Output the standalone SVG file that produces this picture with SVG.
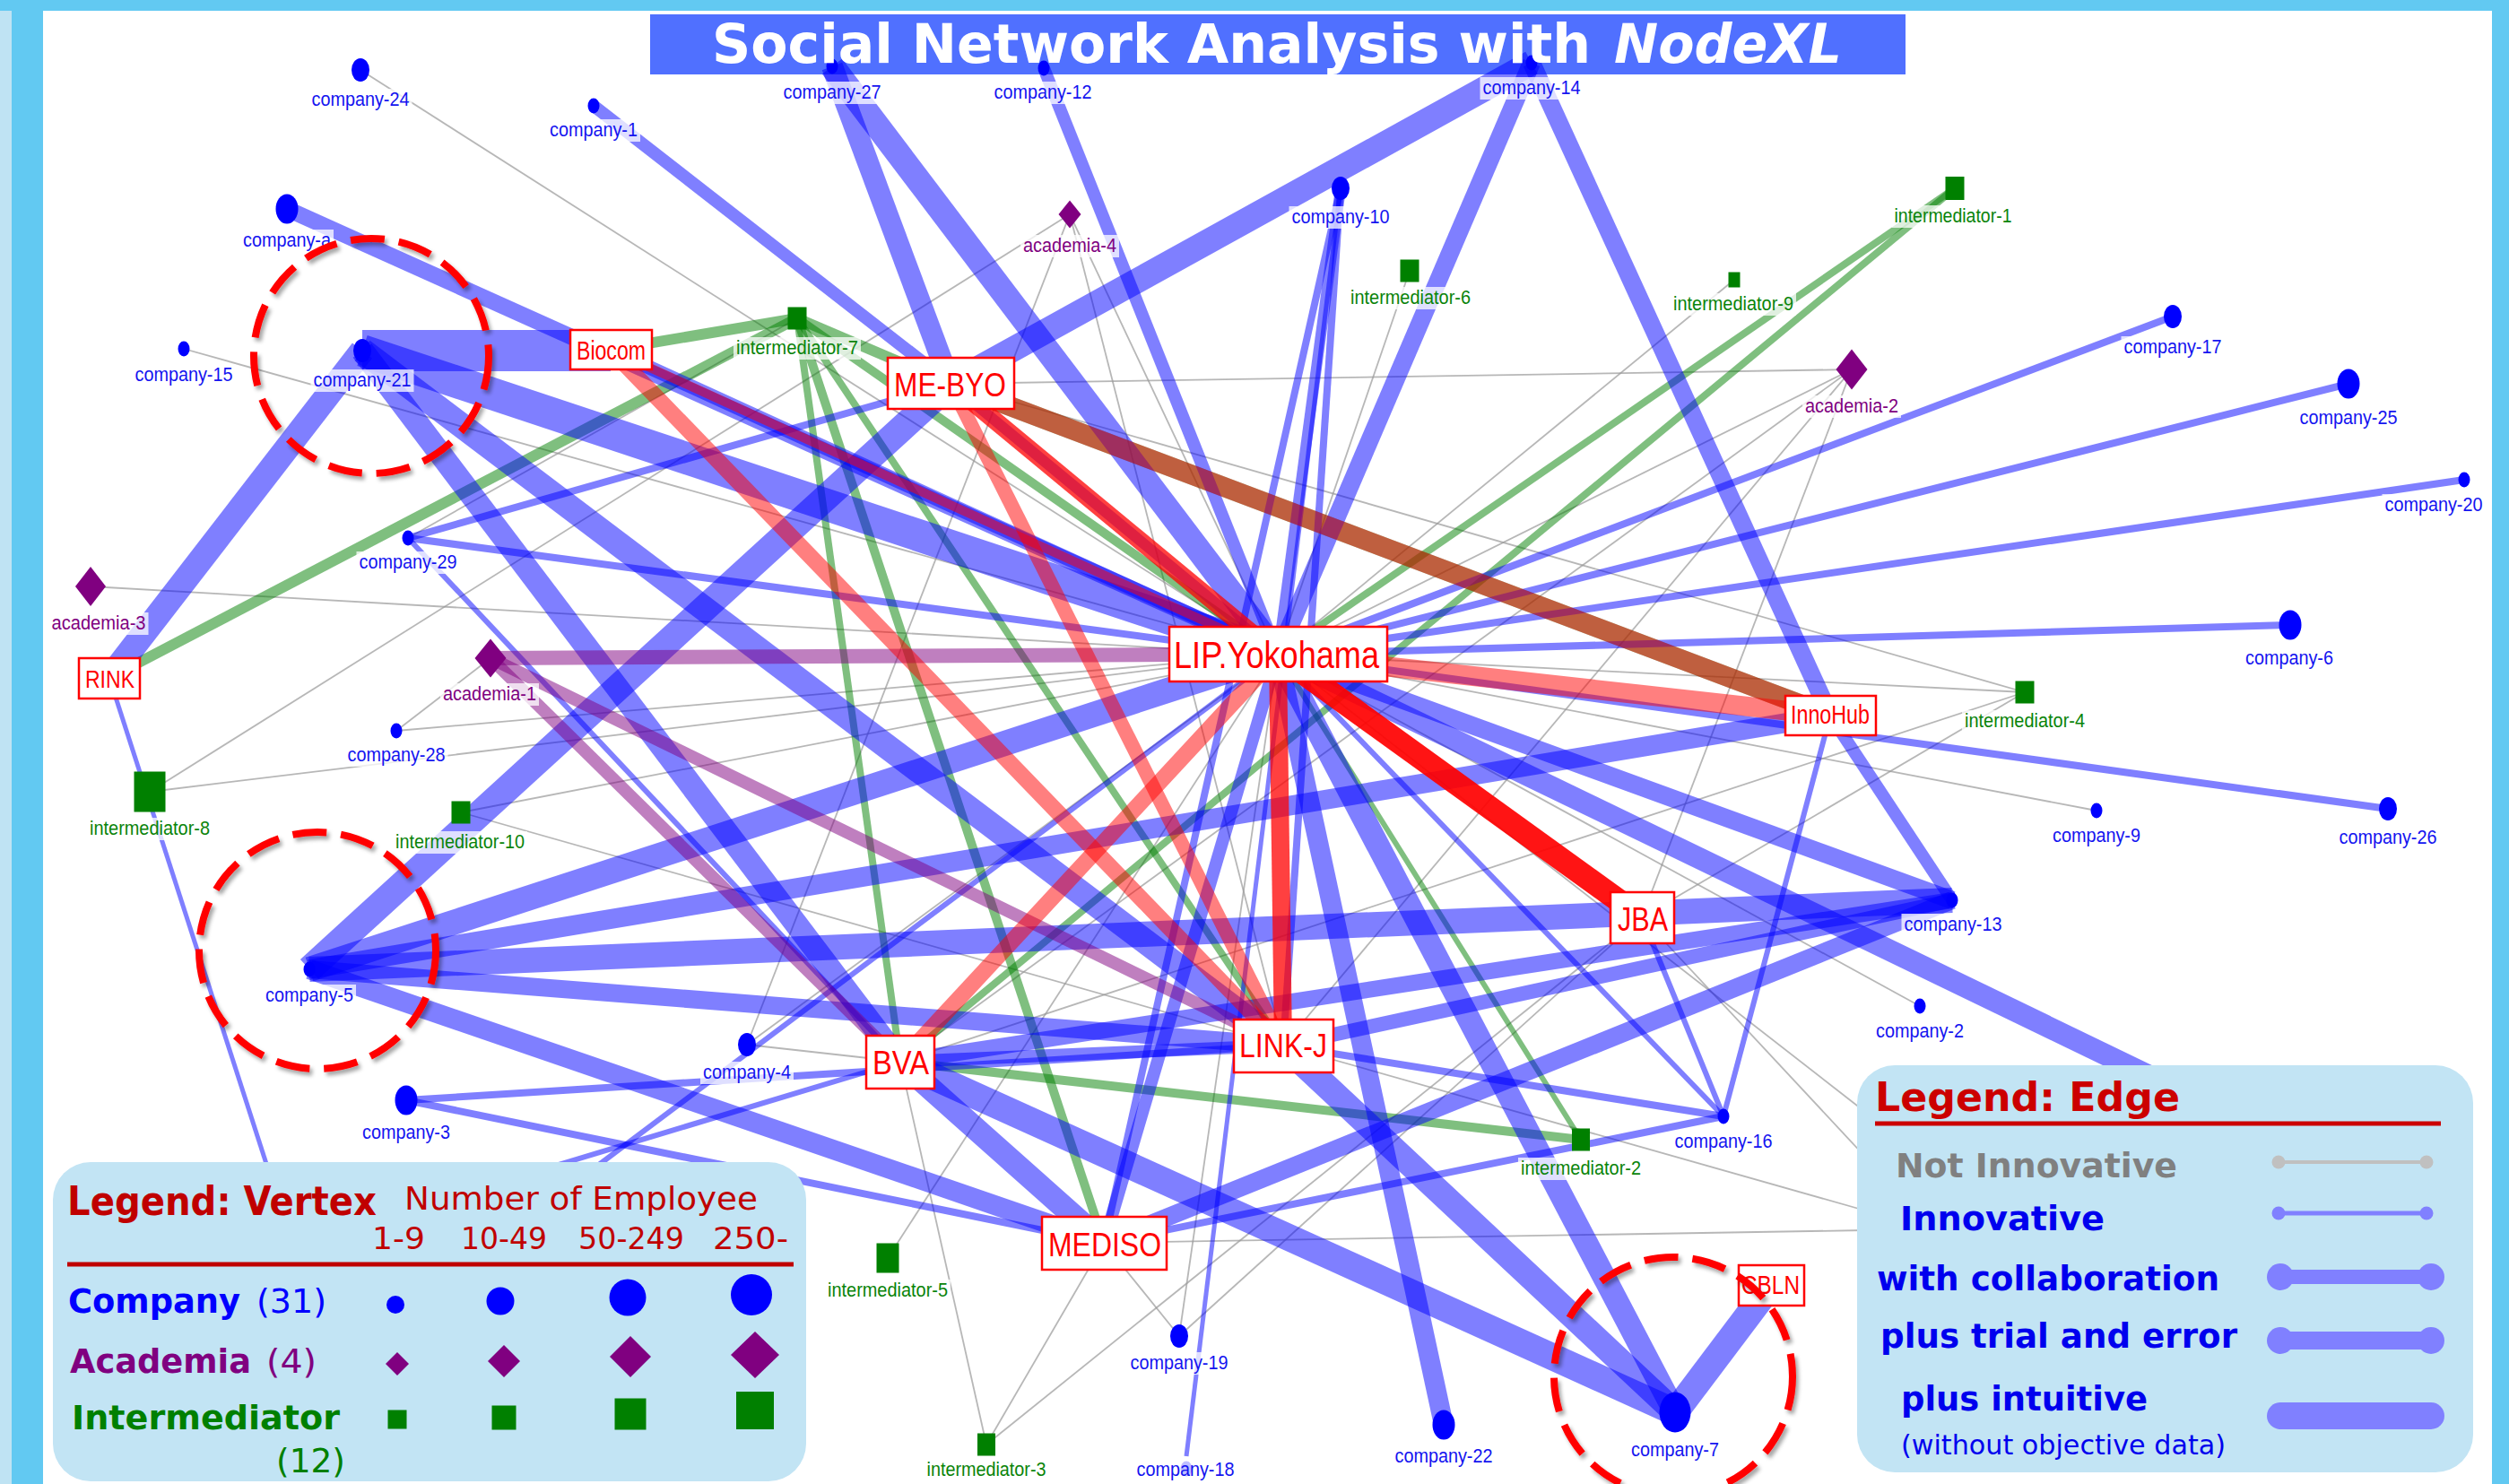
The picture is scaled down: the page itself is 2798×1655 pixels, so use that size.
<svg xmlns="http://www.w3.org/2000/svg" width="2798" height="1655" viewBox="0 0 2798 1655">
<defs>
<style>
.b{stroke:#0000ff;stroke-opacity:.5}
.r{stroke:#ff0000;stroke-opacity:.5}
.rs{stroke:#ff0000;stroke-opacity:.75}
.gr{stroke:#008000;stroke-opacity:.5}
.p{stroke:#800080;stroke-opacity:.5}
.g{stroke:#999999;stroke-opacity:.7;stroke-width:1.8}
.co{fill:#0000ff}
.ac{fill:#800080}
.im{fill:#008000}
.lbl{font-family:"Liberation Sans",Arial,sans-serif;font-size:22px;text-anchor:middle}
.lc{fill:#1414f0}
.la{fill:#800080}
.li{fill:#0a840a}
.lb{fill:#ffffff;fill-opacity:.75}
.org rect{fill:#ffffff;stroke:#ff0000;stroke-width:2.5}
.org text{fill:#ff0000;font-family:"Liberation Sans",Arial,sans-serif}
.ring{fill:none;stroke:#ff0000;stroke-width:8;stroke-dasharray:38 16}
.leg{font-family:"DejaVu Sans",Verdana,sans-serif}
.bold{font-weight:bold}
</style>
<filter id="sh" x="-20%" y="-20%" width="140%" height="140%"><feDropShadow dx="3" dy="4" stdDeviation="2" flood-color="#000000" flood-opacity="0.35"/></filter>
</defs>

<!-- frame -->
<rect x="0" y="0" width="2798" height="1655" fill="#ffffff"/>
<rect x="0" y="0" width="13" height="1655" fill="#bfe3f3"/>
<rect x="13" y="0" width="35" height="1655" fill="#62c9f2"/>
<rect x="0" y="0" width="2798" height="12" fill="#62c9f2"/>
<rect x="2779" y="0" width="19" height="1655" fill="#62c9f2"/>
<rect id="title-bar" x="725" y="16" width="1400" height="67" fill="#5070ff"/>

<g id="connectors" stroke-linecap="butt">
<!-- gray: not innovative -->
<line class="g" x1="402" y1="78" x2="1425" y2="730"/>
<line class="g" x1="205" y1="389" x2="1425" y2="730"/>
<line class="g" x1="101" y1="654" x2="1425" y2="730"/>
<line class="g" x1="167" y1="883" x2="1425" y2="730"/>
<line class="g" x1="442" y1="815" x2="1425" y2="730"/>
<line class="g" x1="442" y1="815" x2="547" y2="734"/>
<line class="g" x1="2338" y1="904" x2="1425" y2="730"/>
<line class="g" x1="2258" y1="772" x2="1425" y2="730"/>
<line class="g" x1="2258" y1="772" x2="1060" y2="428"/>
<line class="g" x1="2258" y1="772" x2="1004" y2="1184"/>
<line class="g" x1="2258" y1="772" x2="1831" y2="1023"/>
<line class="g" x1="1572" y1="302" x2="1425" y2="730"/>
<line class="g" x1="1934" y1="312" x2="1425" y2="730"/>
<line class="g" x1="1193" y1="239" x2="1425" y2="730"/>
<line class="g" x1="1193" y1="239" x2="1431" y2="1166"/>
<line class="g" x1="1193" y1="239" x2="167" y2="883"/>
<line class="g" x1="1193" y1="239" x2="833" y2="1165"/>
<line class="g" x1="2065" y1="412" x2="1060" y2="428"/>
<line class="g" x1="2065" y1="412" x2="1425" y2="730"/>
<line class="g" x1="2065" y1="412" x2="1431" y2="1166"/>
<line class="g" x1="2065" y1="412" x2="1831" y2="1023"/>
<line class="g" x1="2065" y1="412" x2="1004" y2="1184"/>
<line class="g" x1="833" y1="1165" x2="1004" y2="1184"/>
<line class="g" x1="833" y1="1165" x2="1425" y2="730"/>
<line class="g" x1="990" y1="1403" x2="1425" y2="730"/>
<line class="g" x1="1100" y1="1611" x2="1004" y2="1184"/>
<line class="g" x1="1100" y1="1611" x2="1231" y2="1386"/>
<line class="g" x1="1100" y1="1611" x2="1831" y2="1023"/>
<line class="g" x1="1315" y1="1490" x2="1231" y2="1386"/>
<line class="g" x1="1315" y1="1490" x2="1425" y2="730"/>
<line class="g" x1="1315" y1="1490" x2="1831" y2="1023"/>
<line class="g" x1="1231" y1="1386" x2="2080" y2="1372"/>
<line class="g" x1="2141" y1="1122" x2="1425" y2="730"/>
<line class="g" x1="514" y1="906" x2="1425" y2="730"/>
<line class="g" x1="514" y1="906" x2="1431" y2="1166"/>
<line class="g" x1="1431" y1="1166" x2="2080" y2="1350"/>
<line class="g" x1="1831" y1="1023" x2="2080" y2="1290"/>
<line class="g" x1="1425" y1="730" x2="2080" y2="1240"/>
<line class="g" x1="455" y1="600" x2="889" y2="355"/>
<!-- green -->
<line class="gr" stroke-width="22" x1="1060" y1="428" x2="2041" y2="798"/>
<line class="gr" stroke-width="12" x1="889" y1="355" x2="681" y2="390"/>
<line class="gr" stroke-width="12" x1="889" y1="355" x2="122" y2="756"/>
<line class="gr" stroke-width="12" x1="889" y1="355" x2="1060" y2="428"/>
<line class="gr" stroke-width="10" x1="889" y1="355" x2="1425" y2="730"/>
<line class="gr" stroke-width="10" x1="889" y1="355" x2="1231" y2="1386"/>
<line class="gr" stroke-width="8" x1="889" y1="355" x2="1431" y2="1166"/>
<line class="gr" stroke-width="8" x1="889" y1="355" x2="1004" y2="1184"/>
<line class="gr" stroke-width="8" x1="2180" y1="210" x2="1425" y2="730"/>
<line class="gr" stroke-width="8" x1="2180" y1="210" x2="1004" y2="1184"/>
<line class="gr" stroke-width="10" x1="1004" y1="1184" x2="1763" y2="1271"/>
<line class="gr" stroke-width="6" x1="1425" y1="730" x2="1763" y2="1271"/>
<!-- blue -->
<line class="b" stroke-width="46" x1="404" y1="391" x2="681" y2="391"/>
<line class="b" stroke-width="28" x1="404" y1="391" x2="122" y2="756"/>
<line class="b" stroke-width="36" x1="404" y1="391" x2="1425" y2="730"/>
<line class="b" stroke-width="26" x1="404" y1="391" x2="1004" y2="1184"/>
<line class="b" stroke-width="28" x1="404" y1="391" x2="1431" y2="1166"/>
<line class="b" stroke-width="18" x1="320" y1="233" x2="1425" y2="730"/>
<line class="b" stroke-width="14" x1="662" y1="118" x2="1060" y2="428"/>
<line class="b" stroke-width="24" x1="928" y1="74" x2="1060" y2="428"/>
<line class="b" stroke-width="28" x1="928" y1="74" x2="1425" y2="730"/>
<line class="b" stroke-width="14" x1="1164" y1="76" x2="1425" y2="730"/>
<line class="b" stroke-width="28" x1="1708" y1="70" x2="1060" y2="428"/>
<line class="b" stroke-width="20" x1="1708" y1="70" x2="1425" y2="730"/>
<line class="b" stroke-width="20" x1="1708" y1="70" x2="2041" y2="798"/>
<line class="b" stroke-width="12" x1="1495" y1="210" x2="1425" y2="730"/>
<line class="b" stroke-width="8" x1="1495" y1="210" x2="1431" y2="1166"/>
<line class="b" stroke-width="8" x1="1495" y1="210" x2="1231" y2="1386"/>
<line class="b" stroke-width="5" x1="1495" y1="210" x2="1323" y2="1624"/>
<line class="b" stroke-width="30" x1="345" y1="1081" x2="1060" y2="428"/>
<line class="b" stroke-width="28" x1="345" y1="1081" x2="1425" y2="730"/>
<line class="b" stroke-width="22" x1="345" y1="1081" x2="2041" y2="798"/>
<line class="b" stroke-width="28" x1="345" y1="1081" x2="2177" y2="1004"/>
<line class="b" stroke-width="22" x1="345" y1="1081" x2="1231" y2="1386"/>
<line class="b" stroke-width="20" x1="345" y1="1081" x2="1431" y2="1166"/>
<line class="b" stroke-width="8" x1="455" y1="600" x2="1425" y2="730"/>
<line class="b" stroke-width="8" x1="455" y1="600" x2="1060" y2="428"/>
<line class="b" stroke-width="6" x1="455" y1="600" x2="1004" y2="1184"/>
<line class="b" stroke-width="8" x1="1425" y1="730" x2="2423" y2="353"/>
<line class="b" stroke-width="8" x1="1425" y1="730" x2="2619" y2="428"/>
<line class="b" stroke-width="8" x1="1425" y1="730" x2="2748" y2="535"/>
<line class="b" stroke-width="8" x1="1425" y1="730" x2="2554" y2="697"/>
<line class="b" stroke-width="8" x1="1425" y1="730" x2="2663" y2="902"/>
<line class="b" stroke-width="20" x1="1425" y1="730" x2="2177" y2="1004"/>
<line class="b" stroke-width="24" x1="1425" y1="730" x2="2480" y2="1240"/>
<line class="b" stroke-width="26" x1="1425" y1="730" x2="1868" y2="1575"/>
<line class="b" stroke-width="22" x1="1425" y1="730" x2="1610" y2="1589"/>
<line class="b" stroke-width="6" x1="1425" y1="730" x2="1922" y2="1245"/>
<line class="b" stroke-width="14" x1="1425" y1="730" x2="1231" y2="1386"/>
<line class="b" stroke-width="12" x1="1060" y1="428" x2="1425" y2="730"/>
<line class="b" stroke-width="16" x1="681" y1="390" x2="1425" y2="730"/>
<line class="b" stroke-width="14" x1="2041" y1="798" x2="2177" y2="1004"/>
<line class="b" stroke-width="6" x1="2041" y1="798" x2="1922" y2="1245"/>
<line class="b" stroke-width="6" x1="1831" y1="1023" x2="1922" y2="1245"/>
<line class="b" stroke-width="28" x1="1431" y1="1166" x2="1868" y2="1575"/>
<line class="b" stroke-width="16" x1="1431" y1="1166" x2="2177" y2="1004"/>
<line class="b" stroke-width="8" x1="1431" y1="1166" x2="1922" y2="1245"/>
<line class="b" stroke-width="30" x1="1004" y1="1184" x2="1868" y2="1575"/>
<line class="b" stroke-width="26" x1="1004" y1="1184" x2="1231" y2="1386"/>
<line class="b" stroke-width="14" x1="1004" y1="1184" x2="1431" y2="1166"/>
<line class="b" stroke-width="18" x1="1004" y1="1184" x2="2177" y2="1004"/>
<line class="b" stroke-width="20" x1="1231" y1="1386" x2="2177" y2="1004"/>
<line class="b" stroke-width="8" x1="1231" y1="1386" x2="1922" y2="1245"/>
<line class="b" stroke-width="30" x1="1868" y1="1575" x2="1975" y2="1433"/>
<line class="b" stroke-width="8" x1="453" y1="1227" x2="1431" y2="1166"/>
<line class="b" stroke-width="8" x1="453" y1="1227" x2="1231" y2="1386"/>
<line class="b" stroke-width="5" x1="122" y1="756" x2="330" y2="1400"/>
<line class="b" stroke-width="6" x1="560" y1="1380" x2="1425" y2="730"/>
<line class="b" stroke-width="6" x1="520" y1="1330" x2="1004" y2="1184"/>
<!-- purple -->
<line class="p" stroke-width="16" x1="547" y1="734" x2="1304" y2="730"/>
<line class="p" stroke-width="14" x1="547" y1="734" x2="1431" y2="1166"/>
<line class="p" stroke-width="14" x1="547" y1="734" x2="1004" y2="1184"/>
<!-- red -->
<line class="r" stroke-width="22" x1="1060" y1="428" x2="2041" y2="798"/>
<line class="r" stroke-width="22" x1="1425" y1="730" x2="2041" y2="798"/>
<line class="r" stroke-width="18" x1="1425" y1="730" x2="1004" y2="1184"/>
<line class="r" stroke-width="16" x1="1060" y1="428" x2="1431" y2="1166"/>
<line class="r" stroke-width="10" x1="681" y1="390" x2="1425" y2="730"/>
<line class="r" stroke-width="18" x1="681" y1="390" x2="1431" y2="1166"/>
<line class="rs" stroke-width="20" x1="1060" y1="428" x2="1425" y2="730"/>
<line class="rs" stroke-width="20" x1="1425" y1="730" x2="1431" y2="1166"/>
<line stroke="#ff0000" stroke-opacity="0.92" stroke-width="26" x1="1425" y1="730" x2="1831" y2="1023"/>
</g>

<!-- vertices: companies -->
<g id="company-24"><ellipse class="co" cx="402" cy="78" rx="10" ry="13"/><rect class="lb" x="344.5" y="99" width="115" height="25"/><text class="lbl lc" x="402" y="118" textLength="109" lengthAdjust="spacingAndGlyphs">company-24</text></g>
<g id="company-1"><ellipse class="co" cx="662" cy="118" rx="6.5" ry="8.5"/><rect class="lb" x="610" y="133" width="104" height="25"/><text class="lbl lc" x="662" y="152" textLength="98" lengthAdjust="spacingAndGlyphs">company-1</text></g>
<g id="company-a"><ellipse class="co" cx="320" cy="233" rx="12.5" ry="16.5"/><rect class="lb" x="268" y="256" width="104" height="25"/><text class="lbl lc" x="320" y="275" textLength="98" lengthAdjust="spacingAndGlyphs">company-a</text></g>
<g id="company-15"><ellipse class="co" cx="205" cy="389" rx="6.5" ry="8.5"/><rect class="lb" x="147.5" y="406" width="115" height="25"/><text class="lbl lc" x="205" y="425" textLength="109" lengthAdjust="spacingAndGlyphs">company-15</text></g>
<g id="company-21"><ellipse class="co" cx="404" cy="391" rx="10" ry="13"/><rect class="lb" x="346.5" y="412" width="115" height="25"/><text class="lbl lc" x="404" y="431" textLength="109" lengthAdjust="spacingAndGlyphs">company-21</text></g>
<g id="company-27"><ellipse class="co" cx="928" cy="74" rx="6.5" ry="8.5"/><rect class="lb" x="870.5" y="91" width="115" height="25"/><text class="lbl lc" x="928" y="110" textLength="109" lengthAdjust="spacingAndGlyphs">company-27</text></g>
<g id="company-12"><ellipse class="co" cx="1164" cy="76" rx="6.5" ry="8.5"/><rect class="lb" x="1105.5" y="91" width="115" height="25"/><text class="lbl lc" x="1163" y="110" textLength="109" lengthAdjust="spacingAndGlyphs">company-12</text></g>
<g id="company-14"><ellipse class="co" cx="1708" cy="70" rx="6.5" ry="8.5"/><rect class="lb" x="1650.5" y="86" width="115" height="25"/><text class="lbl lc" x="1708" y="105" textLength="109" lengthAdjust="spacingAndGlyphs">company-14</text></g>
<g id="company-10"><ellipse class="co" cx="1495" cy="210" rx="10" ry="13"/><rect class="lb" x="1437.5" y="230" width="115" height="25"/><text class="lbl lc" x="1495" y="249" textLength="109" lengthAdjust="spacingAndGlyphs">company-10</text></g>
<g id="company-17"><ellipse class="co" cx="2423" cy="353" rx="10" ry="13"/><rect class="lb" x="2365.5" y="375" width="115" height="25"/><text class="lbl lc" x="2423" y="394" textLength="109" lengthAdjust="spacingAndGlyphs">company-17</text></g>
<g id="company-25"><ellipse class="co" cx="2619" cy="428" rx="12.5" ry="16.5"/><rect class="lb" x="2561.5" y="454" width="115" height="25"/><text class="lbl lc" x="2619" y="473" textLength="109" lengthAdjust="spacingAndGlyphs">company-25</text></g>
<g id="company-20"><ellipse class="co" cx="2748" cy="535" rx="6.5" ry="8.5"/><rect class="lb" x="2656.5" y="551" width="115" height="25"/><text class="lbl lc" x="2714" y="570" textLength="109" lengthAdjust="spacingAndGlyphs">company-20</text></g>
<g id="company-29"><ellipse class="co" cx="455" cy="600" rx="6.5" ry="8.5"/><rect class="lb" x="397.5" y="615" width="115" height="25"/><text class="lbl lc" x="455" y="634" textLength="109" lengthAdjust="spacingAndGlyphs">company-29</text></g>
<g id="company-28"><ellipse class="co" cx="442" cy="815" rx="6.5" ry="8.5"/><rect class="lb" x="384.5" y="830" width="115" height="25"/><text class="lbl lc" x="442" y="849" textLength="109" lengthAdjust="spacingAndGlyphs">company-28</text></g>
<g id="company-5"><ellipse class="co" cx="345" cy="1081" rx="6.5" ry="8.5"/><rect class="lb" x="293" y="1098" width="104" height="25"/><text class="lbl lc" x="345" y="1117" textLength="98" lengthAdjust="spacingAndGlyphs">company-5</text></g>
<g id="company-6"><ellipse class="co" cx="2554" cy="697" rx="12.5" ry="16.5"/><rect class="lb" x="2501" y="722" width="104" height="25"/><text class="lbl lc" x="2553" y="741" textLength="98" lengthAdjust="spacingAndGlyphs">company-6</text></g>
<g id="company-9"><ellipse class="co" cx="2338" cy="904" rx="6.5" ry="8.5"/><rect class="lb" x="2286" y="920" width="104" height="25"/><text class="lbl lc" x="2338" y="939" textLength="98" lengthAdjust="spacingAndGlyphs">company-9</text></g>
<g id="company-26"><ellipse class="co" cx="2663" cy="902" rx="10" ry="13"/><rect class="lb" x="2605.5" y="922" width="115" height="25"/><text class="lbl lc" x="2663" y="941" textLength="109" lengthAdjust="spacingAndGlyphs">company-26</text></g>
<g id="company-13"><ellipse class="co" cx="2177" cy="1004" rx="6.5" ry="8.5"/><rect class="lb" x="2120.5" y="1019" width="115" height="25"/><text class="lbl lc" x="2178" y="1038" textLength="109" lengthAdjust="spacingAndGlyphs">company-13</text></g>
<g id="company-4"><ellipse class="co" cx="833" cy="1165" rx="10" ry="13"/><rect class="lb" x="781" y="1184" width="104" height="25"/><text class="lbl lc" x="833" y="1203" textLength="98" lengthAdjust="spacingAndGlyphs">company-4</text></g>
<g id="company-3"><ellipse class="co" cx="453" cy="1227" rx="12.5" ry="16.5"/><rect class="lb" x="401" y="1251" width="104" height="25"/><text class="lbl lc" x="453" y="1270" textLength="98" lengthAdjust="spacingAndGlyphs">company-3</text></g>
<g id="company-19"><ellipse class="co" cx="1315" cy="1490" rx="10" ry="13"/><rect class="lb" x="1257.5" y="1508" width="115" height="25"/><text class="lbl lc" x="1315" y="1527" textLength="109" lengthAdjust="spacingAndGlyphs">company-19</text></g>
<g id="company-18"><ellipse class="co" cx="1323" cy="1638" rx="6.5" ry="8.5"/><rect class="lb" x="1264.5" y="1627" width="115" height="25"/><text class="lbl lc" x="1322" y="1646" textLength="109" lengthAdjust="spacingAndGlyphs">company-18</text></g>
<g id="company-22"><ellipse class="co" cx="1610" cy="1589" rx="12.5" ry="16.5"/><rect class="lb" x="1552.5" y="1612" width="115" height="25"/><text class="lbl lc" x="1610" y="1631" textLength="109" lengthAdjust="spacingAndGlyphs">company-22</text></g>
<g id="company-7"><ellipse class="co" cx="1868" cy="1575" rx="17.5" ry="22.5"/><rect class="lb" x="1816" y="1605" width="104" height="25"/><text class="lbl lc" x="1868" y="1624" textLength="98" lengthAdjust="spacingAndGlyphs">company-7</text></g>
<g id="company-16"><ellipse class="co" cx="1922" cy="1245" rx="6.5" ry="8.5"/><rect class="lb" x="1864.5" y="1261" width="115" height="25"/><text class="lbl lc" x="1922" y="1280" textLength="109" lengthAdjust="spacingAndGlyphs">company-16</text></g>
<g id="company-2"><ellipse class="co" cx="2141" cy="1122" rx="6.5" ry="8.5"/><rect class="lb" x="2089" y="1138" width="104" height="25"/><text class="lbl lc" x="2141" y="1157" textLength="98" lengthAdjust="spacingAndGlyphs">company-2</text></g>

<!-- academia -->
<g id="academia-4"><polygon class="ac" points="1193,223.5 1205.5,239 1193,254.5 1180.5,239"/><rect class="lb" x="1138" y="262" width="110" height="25"/><text class="lbl la" x="1193" y="281" textLength="104" lengthAdjust="spacingAndGlyphs">academia-4</text></g>
<g id="academia-2"><polygon class="ac" points="2065,389.5 2082.5,412 2065,434.5 2047.5,412"/><rect class="lb" x="2010" y="441" width="110" height="25"/><text class="lbl la" x="2065" y="460" textLength="104" lengthAdjust="spacingAndGlyphs">academia-2</text></g>
<g id="academia-3"><polygon class="ac" points="101,632 118,654 101,676 84,654"/><rect class="lb" x="54.5" y="683" width="111" height="25"/><text class="lbl la" x="110" y="702" textLength="105" lengthAdjust="spacingAndGlyphs">academia-3</text></g>
<g id="academia-1"><polygon class="ac" points="547,712.5 564.5,734 547,755.5 529.5,734"/><rect class="lb" x="491" y="762" width="110" height="25"/><text class="lbl la" x="546" y="781" textLength="104" lengthAdjust="spacingAndGlyphs">academia-1</text></g>

<!-- intermediators -->
<g id="intermediator-7"><rect class="im" x="878.5" y="342.5" width="21" height="25"/><rect class="lb" x="818" y="376" width="142" height="25"/><text class="lbl li" x="889" y="395" textLength="136" lengthAdjust="spacingAndGlyphs">intermediator-7</text></g>
<g id="intermediator-6"><rect class="im" x="1561.5" y="289.5" width="21" height="25"/><rect class="lb" x="1503" y="320" width="140" height="25"/><text class="lbl li" x="1573" y="339" textLength="134" lengthAdjust="spacingAndGlyphs">intermediator-6</text></g>
<g id="intermediator-9"><rect class="im" x="1927.5" y="303.5" width="13" height="17"/><rect class="lb" x="1863" y="327" width="140" height="25"/><text class="lbl li" x="1933" y="346" textLength="134" lengthAdjust="spacingAndGlyphs">intermediator-9</text></g>
<g id="intermediator-1"><rect class="im" x="2169.5" y="197" width="21" height="26"/><rect class="lb" x="2109.5" y="229" width="137" height="25"/><text class="lbl li" x="2178" y="248" textLength="131" lengthAdjust="spacingAndGlyphs">intermediator-1</text></g>
<g id="intermediator-4"><rect class="im" x="2247.5" y="759.5" width="21" height="25"/><rect class="lb" x="2188" y="792" width="140" height="25"/><text class="lbl li" x="2258" y="811" textLength="134" lengthAdjust="spacingAndGlyphs">intermediator-4</text></g>
<g id="intermediator-8"><rect class="im" x="149.5" y="860.5" width="35" height="45"/><rect class="lb" x="97" y="912" width="140" height="25"/><text class="lbl li" x="167" y="931" textLength="134" lengthAdjust="spacingAndGlyphs">intermediator-8</text></g>
<g id="intermediator-10"><rect class="im" x="503.5" y="893.5" width="21" height="25"/><rect class="lb" x="438" y="927" width="150" height="25"/><text class="lbl li" x="513" y="946" textLength="144" lengthAdjust="spacingAndGlyphs">intermediator-10</text></g>
<g id="intermediator-5"><rect class="im" x="977.5" y="1386.5" width="25" height="33"/><rect class="lb" x="920" y="1427" width="140" height="25"/><text class="lbl li" x="990" y="1446" textLength="134" lengthAdjust="spacingAndGlyphs">intermediator-5</text></g>
<g id="intermediator-3"><rect class="im" x="1090" y="1598.5" width="20" height="25"/><rect class="lb" x="1030.5" y="1627" width="139" height="25"/><text class="lbl li" x="1100" y="1646" textLength="133" lengthAdjust="spacingAndGlyphs">intermediator-3</text></g>
<g id="intermediator-2"><rect class="im" x="1753" y="1258.5" width="20" height="25"/><rect class="lb" x="1693" y="1291" width="140" height="25"/><text class="lbl li" x="1763" y="1310" textLength="134" lengthAdjust="spacingAndGlyphs">intermediator-2</text></g>

<!-- organisations -->
<g id="Biocom" class="org"><rect x="636" y="368" width="91" height="44"/><text x="643" y="401" font-size="30" textLength="77" lengthAdjust="spacingAndGlyphs">Biocom</text></g>
<g id="ME-BYO" class="org"><rect x="990" y="399" width="141" height="57"/><text x="997" y="442" font-size="37" textLength="125" lengthAdjust="spacingAndGlyphs">ME-BYO</text></g>
<g id="LIP.Yokohama" class="org"><rect x="1304" y="699" width="243" height="61"/><text x="1309" y="745" font-size="43" textLength="229" lengthAdjust="spacingAndGlyphs">LIP.Yokohama</text></g>
<g id="InnoHub" class="org"><rect x="1991" y="776" width="101" height="44"/><text x="1997" y="807" font-size="29" textLength="88" lengthAdjust="spacingAndGlyphs">InnoHub</text></g>
<g id="JBA" class="org"><rect x="1796" y="995" width="71" height="57"/><text x="1804" y="1038" font-size="37" textLength="56" lengthAdjust="spacingAndGlyphs">JBA</text></g>
<g id="LINK-J" class="org"><rect x="1376" y="1137" width="111" height="59"/><text x="1382" y="1179" font-size="37" textLength="98" lengthAdjust="spacingAndGlyphs">LINK-J</text></g>
<g id="BVA" class="org"><rect x="966" y="1155" width="76" height="59"/><text x="973" y="1198" font-size="37" textLength="63" lengthAdjust="spacingAndGlyphs">BVA</text></g>
<g id="MEDISO" class="org"><rect x="1162" y="1357" width="139" height="59"/><text x="1169" y="1401" font-size="37" textLength="126" lengthAdjust="spacingAndGlyphs">MEDISO</text></g>
<g id="RINK" class="org"><rect x="88" y="734" width="68" height="45"/><text x="95" y="767" font-size="27" textLength="55" lengthAdjust="spacingAndGlyphs">RINK</text></g>
<g id="CBLN" class="org"><rect x="1939" y="1411" width="73" height="45"/><text x="1942" y="1443" font-size="29" textLength="65" lengthAdjust="spacingAndGlyphs">CBLN</text></g>

<!-- highlight rings -->
<g id="rings" filter="url(#sh)">
<circle class="ring" cx="414" cy="397" r="131"/>
<circle class="ring" cx="354" cy="1060" r="132"/>
<circle class="ring" cx="1866" cy="1535" r="133"/>
</g>

<!-- title -->
<g id="title" class="leg bold" fill="#ffffff" font-size="60">
<text x="794" y="70" textLength="980" lengthAdjust="spacingAndGlyphs">Social Network Analysis with</text>
<text x="1800" y="70" font-style="italic" textLength="254" lengthAdjust="spacingAndGlyphs">NodeXL</text>
</g>

<!-- vertex legend -->
<g id="legend-vertex" class="leg">
<rect x="59" y="1296" width="840" height="356" rx="42" fill="#c2e4f4"/>
<text x="75" y="1355" font-size="44" font-weight="bold" fill="#c00000" textLength="345" lengthAdjust="spacingAndGlyphs">Legend: Vertex</text>
<text x="451" y="1349" font-size="35" fill="#c00000" textLength="394" lengthAdjust="spacingAndGlyphs">Number of Employee</text>
<text x="415" y="1393" font-size="34" fill="#c00000" textLength="59" lengthAdjust="spacingAndGlyphs">1-9</text>
<text x="514" y="1393" font-size="34" fill="#c00000" textLength="96" lengthAdjust="spacingAndGlyphs">10-49</text>
<text x="645" y="1393" font-size="34" fill="#c00000" textLength="118" lengthAdjust="spacingAndGlyphs">50-249</text>
<text x="795" y="1393" font-size="34" fill="#c00000" textLength="84" lengthAdjust="spacingAndGlyphs">250-</text>
<line x1="75" y1="1410" x2="885" y2="1410" stroke="#c00000" stroke-width="5"/>
<text x="76" y="1464" font-size="38" font-weight="bold" fill="#0000ff" textLength="192" lengthAdjust="spacingAndGlyphs">Company</text>
<text x="286" y="1464" font-size="38" fill="#0000ff" textLength="78" lengthAdjust="spacingAndGlyphs">(31)</text>
<text x="78" y="1531" font-size="38" font-weight="bold" fill="#800080" textLength="202" lengthAdjust="spacingAndGlyphs">Academia</text>
<text x="297" y="1531" font-size="38" fill="#800080" textLength="56" lengthAdjust="spacingAndGlyphs">(4)</text>
<text x="80" y="1594" font-size="38" font-weight="bold" fill="#008000" textLength="299" lengthAdjust="spacingAndGlyphs">Intermediator</text>
<text x="308" y="1642" font-size="38" fill="#008000" textLength="77" lengthAdjust="spacingAndGlyphs">(12)</text>
<circle cx="441" cy="1455" r="10" fill="#0000ff"/>
<circle cx="558" cy="1451" r="15.5" fill="#0000ff"/>
<circle cx="700" cy="1447" r="20.5" fill="#0000ff"/>
<circle cx="838" cy="1444" r="23" fill="#0000ff"/>
<polygon points="443,1508 456,1521 443,1534 430,1521" fill="#800080"/>
<polygon points="562,1500 580,1518 562,1536 544,1518" fill="#800080"/>
<polygon points="703,1490 726,1513 703,1536 680,1513" fill="#800080"/>
<polygon points="842,1485 869,1511 842,1537 815,1511" fill="#800080"/>
<rect x="432.5" y="1572.5" width="21" height="21" fill="#008000"/>
<rect x="548.5" y="1567.5" width="27" height="27" fill="#008000"/>
<rect x="685.5" y="1559.5" width="35" height="35" fill="#008000"/>
<rect x="821" y="1552" width="42" height="42" fill="#008000"/>
</g>

<!-- edge legend -->
<g id="legend-edge" class="leg">
<rect x="2071" y="1188" width="687" height="454" rx="42" fill="#c2e4f4"/>
<text x="2091" y="1239" font-size="44" font-weight="bold" fill="#cc0000" textLength="340" lengthAdjust="spacingAndGlyphs">Legend: Edge</text>
<line x1="2091" y1="1253" x2="2722" y2="1253" stroke="#cc0000" stroke-width="5"/>
<text x="2114" y="1313" font-size="37" font-weight="bold" fill="#808080" textLength="314" lengthAdjust="spacingAndGlyphs">Not Innovative</text>
<text x="2119" y="1372" font-size="37" font-weight="bold" fill="#0000ee" textLength="228" lengthAdjust="spacingAndGlyphs">Innovative</text>
<text x="2093" y="1439" font-size="37" font-weight="bold" fill="#0000ee" textLength="382" lengthAdjust="spacingAndGlyphs">with collaboration</text>
<text x="2097" y="1503" font-size="37" font-weight="bold" fill="#0000ee" textLength="398" lengthAdjust="spacingAndGlyphs">plus trial and error</text>
<text x="2120" y="1573" font-size="37" font-weight="bold" fill="#0000ee" textLength="275" lengthAdjust="spacingAndGlyphs">plus intuitive</text>
<text x="2120" y="1622" font-size="30" fill="#0000ee" textLength="362" lengthAdjust="spacingAndGlyphs">(without objective data)</text>
<line x1="2541" y1="1296" x2="2706" y2="1296" stroke="#c0c0c0" stroke-width="4"/>
<circle cx="2541" cy="1296" r="7.5" fill="#c0c0c0"/><circle cx="2706" cy="1296" r="7.5" fill="#c0c0c0"/>
<line x1="2541" y1="1353" x2="2706" y2="1353" stroke="#8080ff" stroke-width="5"/>
<circle cx="2541" cy="1353" r="7.5" fill="#8080ff"/><circle cx="2706" cy="1353" r="7.5" fill="#8080ff"/>
<line x1="2543" y1="1424" x2="2711" y2="1424" stroke="#8080ff" stroke-width="16"/>
<circle cx="2543" cy="1424" r="15" fill="#8080ff"/><circle cx="2711" cy="1424" r="15" fill="#8080ff"/>
<line x1="2543" y1="1495" x2="2711" y2="1495" stroke="#8080ff" stroke-width="20"/>
<circle cx="2543" cy="1495" r="15" fill="#8080ff"/><circle cx="2711" cy="1495" r="15" fill="#8080ff"/>
<line x1="2543" y1="1579" x2="2711" y2="1579" stroke="#8080ff" stroke-width="30" stroke-linecap="round"/>
</g>
</svg>
